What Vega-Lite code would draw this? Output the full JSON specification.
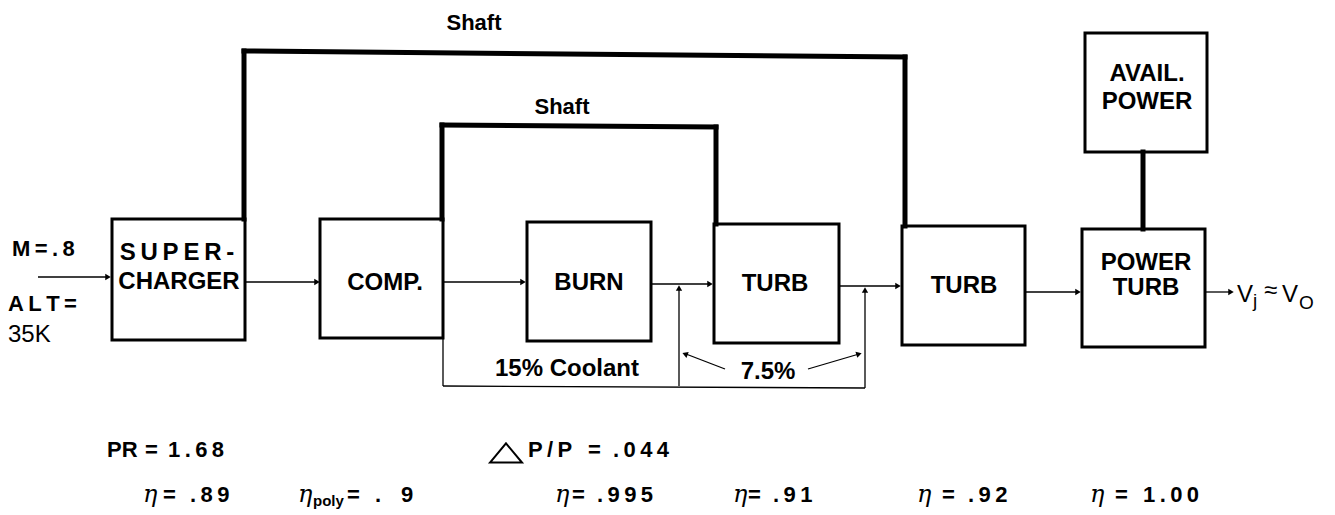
{
  "$schema": "https://vega.github.io/schema/vega-lite/v6.json",
  "width": 1335,
  "height": 515,
  "autosize": {"type": "fit", "contains": "padding"},
  "padding": 0,
  "background": "white",
  "config": {"view": {"stroke": null}},
  "datasets": {
    "boxes": [
      {"name": "SUPERCHARGER", "x": 112, "x2": 245, "y": 219, "y2": 340},
      {"name": "COMP", "x": 320, "x2": 443, "y": 219, "y2": 338},
      {"name": "BURN", "x": 527, "x2": 651, "y": 222, "y2": 341},
      {"name": "TURB1", "x": 714, "x2": 839, "y": 224, "y2": 343},
      {"name": "TURB2", "x": 902, "x2": 1025, "y": 226, "y2": 345},
      {"name": "POWER TURB", "x": 1082, "x2": 1205, "y": 229, "y2": 347},
      {"name": "AVAIL POWER", "x": 1085, "x2": 1207, "y": 33, "y2": 152}
    ],
    "thick": [
      {"x": 244, "y": 219, "x2": 244, "y2": 51},
      {"x": 244, "y": 51, "x2": 905, "y2": 57},
      {"x": 905, "y": 57, "x2": 905, "y2": 226},
      {"x": 442, "y": 219, "x2": 442, "y2": 125},
      {"x": 442, "y": 125, "x2": 716, "y2": 127},
      {"x": 716, "y": 127, "x2": 716, "y2": 224},
      {"x": 1143, "y": 152, "x2": 1143, "y2": 229}
    ],
    "thin": [
      {"x": 38, "y": 277, "x2": 108, "y2": 277},
      {"x": 246, "y": 282, "x2": 316, "y2": 282},
      {"x": 443, "y": 282, "x2": 522, "y2": 282},
      {"x": 651, "y": 284, "x2": 709, "y2": 284},
      {"x": 839, "y": 286, "x2": 897, "y2": 286},
      {"x": 1025, "y": 292, "x2": 1077, "y2": 292},
      {"x": 1205, "y": 292, "x2": 1230, "y2": 292},
      {"x": 443, "y": 338, "x2": 443, "y2": 386},
      {"x": 443, "y": 386, "x2": 865, "y2": 388},
      {"x": 679, "y": 386, "x2": 679, "y2": 289},
      {"x": 865, "y": 388, "x2": 865, "y2": 291},
      {"x": 686, "y": 354, "x2": 725, "y2": 369},
      {"x": 808, "y": 369, "x2": 859, "y2": 354}
    ],
    "arrows": [
      {"x": 108, "y": 277, "a": 0},
      {"x": 317, "y": 282, "a": 0},
      {"x": 523, "y": 282, "a": 0},
      {"x": 710, "y": 284, "a": 0},
      {"x": 898, "y": 286, "a": 0},
      {"x": 1078, "y": 292, "a": 0},
      {"x": 1231, "y": 292, "a": 0},
      {"x": 679, "y": 288, "a": 270},
      {"x": 865, "y": 290, "a": 270},
      {"x": 685, "y": 354, "a": 201},
      {"x": 859, "y": 354, "a": 343}
    ],
    "bigText": [
      {"t": "S\u2009U\u2009P\u2009E\u2009R\u2009-", "x": 177, "y": 260},
      {"t": "CHARGER", "x": 179, "y": 289},
      {"t": "COMP.", "x": 385, "y": 290},
      {"t": "BURN", "x": 589, "y": 290},
      {"t": "TURB", "x": 775, "y": 291},
      {"t": "TURB", "x": 964, "y": 293},
      {"t": "POWER", "x": 1146, "y": 270},
      {"t": "TURB", "x": 1146, "y": 295},
      {"t": "AVAIL.", "x": 1147, "y": 81},
      {"t": "POWER", "x": 1147, "y": 109},
      {"t": "15% Coolant", "x": 567, "y": 376},
      {"t": "7.5%", "x": 768, "y": 379}
    ],
    "shaftText": [
      {"t": "Shaft", "x": 474, "y": 30},
      {"t": "Shaft", "x": 562, "y": 114}
    ],
    "leftText": [
      {"t": "M\u2009=\u2009.\u20098", "x": 12, "y": 256},
      {"t": "A\u2009L\u2009T\u2009=", "x": 8, "y": 311}
    ],
    "params": [
      {"t": "PR", "x": 107, "y": 457},
      {"t": "=", "x": 145, "y": 457},
      {"t": "1\u2009.\u20096\u20098", "x": 168, "y": 457},
      {"t": "P\u2009/\u2009P", "x": 528, "y": 457},
      {"t": "=", "x": 588, "y": 457},
      {"t": ".\u20090\u20094\u20094", "x": 613, "y": 457},
      {"t": "=", "x": 163, "y": 502},
      {"t": ".\u20098\u20099", "x": 190, "y": 502},
      {"t": "=", "x": 347, "y": 502},
      {"t": ".", "x": 375, "y": 502},
      {"t": "9", "x": 401, "y": 502},
      {"t": "=", "x": 572, "y": 502},
      {"t": ".\u20099\u20099\u20095", "x": 597, "y": 502},
      {"t": "=", "x": 748, "y": 502},
      {"t": ".\u20099\u20091", "x": 773, "y": 502},
      {"t": "=", "x": 942, "y": 502},
      {"t": ".\u20099\u20092", "x": 968, "y": 502},
      {"t": "=", "x": 1115, "y": 502},
      {"t": "1\u2009.\u20090\u20090", "x": 1143, "y": 502}
    ],
    "etas": [
      {"t": "η", "x": 143, "y": 502},
      {"t": "η", "x": 298, "y": 502},
      {"t": "η", "x": 555, "y": 502},
      {"t": "η", "x": 733, "y": 502},
      {"t": "η", "x": 917, "y": 502},
      {"t": "η", "x": 1090, "y": 502}
    ],
    "subs": [
      {"t": "poly", "x": 313, "y": 506}
    ],
    "regText": [
      {"t": "35K", "x": 8, "y": 342},
      {"t": "V", "x": 1237, "y": 302},
      {"t": "≈", "x": 1264, "y": 298},
      {"t": "V", "x": 1282, "y": 302}
    ],
    "smallReg": [
      {"t": "j", "x": 1253, "y": 307},
      {"t": "O", "x": 1299, "y": 309}
    ],
    "delta": [
      {"t": "ΔP", "x": 506, "y": 453}
    ]
  },
  "encoding": {
    "x": {"field": "x", "type": "quantitative", "scale": {"domain": [0, 1335], "nice": false, "zero": false}, "axis": null},
    "y": {"field": "y", "type": "quantitative", "scale": {"domain": [0, 515], "reverse": true, "nice": false, "zero": false}, "axis": null}
  },
  "layer": [
    {
      "data": {"name": "boxes"},
      "mark": {"type": "rect", "fill": "white", "stroke": "black", "strokeWidth": 3},
      "encoding": {
        "x2": {"field": "x2"},
        "y2": {"field": "y2"}
      }
    },
    {
      "data": {"name": "thick"},
      "mark": {"type": "rule", "color": "black", "strokeWidth": 5, "strokeCap": "square"},
      "encoding": {
        "x2": {"field": "x2"},
        "y2": {"field": "y2"}
      }
    },
    {
      "data": {"name": "thin"},
      "mark": {"type": "rule", "color": "black", "strokeWidth": 1.3},
      "encoding": {
        "x2": {"field": "x2"},
        "y2": {"field": "y2"}
      }
    },
    {
      "data": {"name": "arrows"},
      "mark": {"type": "point", "shape": "triangle-right", "filled": true, "color": "black", "opacity": 1, "size": 40},
      "encoding": {
        "angle": {"field": "a", "type": "quantitative", "scale": null}
      }
    },
    {
      "data": {"name": "delta"},
      "mark": {"type": "point", "shape": "M-1,0.6L0,-0.6L1,0.6Z", "filled": false, "color": "black", "opacity": 1, "strokeWidth": 2, "size": 1024}
    },
    {
      "data": {"name": "bigText"},
      "mark": {"type": "text", "font": "Liberation Sans", "fontWeight": "bold", "fontSize": 24, "align": "center", "baseline": "alphabetic", "color": "black"},
      "encoding": {"text": {"field": "t"}}
    },
    {
      "data": {"name": "shaftText"},
      "mark": {"type": "text", "font": "Liberation Sans", "fontWeight": "bold", "fontSize": 22, "align": "center", "baseline": "alphabetic", "color": "black"},
      "encoding": {"text": {"field": "t"}}
    },
    {
      "data": {"name": "leftText"},
      "mark": {"type": "text", "font": "Liberation Sans", "fontWeight": "bold", "fontSize": 22, "align": "left", "baseline": "alphabetic", "color": "black"},
      "encoding": {"text": {"field": "t"}}
    },
    {
      "data": {"name": "params"},
      "mark": {"type": "text", "font": "Liberation Sans", "fontWeight": "bold", "fontSize": 22, "align": "left", "baseline": "alphabetic", "color": "black"},
      "encoding": {"text": {"field": "t"}}
    },
    {
      "data": {"name": "etas"},
      "mark": {"type": "text", "font": "DejaVu Serif", "fontStyle": "italic", "fontSize": 24, "align": "left", "baseline": "alphabetic", "color": "black"},
      "encoding": {"text": {"field": "t"}}
    },
    {
      "data": {"name": "subs"},
      "mark": {"type": "text", "font": "Liberation Sans", "fontWeight": "bold", "fontSize": 15, "align": "left", "baseline": "alphabetic", "color": "black"},
      "encoding": {"text": {"field": "t"}}
    },
    {
      "data": {"name": "regText"},
      "mark": {"type": "text", "font": "Liberation Sans", "fontSize": 24, "align": "left", "baseline": "alphabetic", "color": "black"},
      "encoding": {"text": {"field": "t"}}
    },
    {
      "data": {"name": "smallReg"},
      "mark": {"type": "text", "font": "Liberation Sans", "fontSize": 19, "align": "left", "baseline": "alphabetic", "color": "black"},
      "encoding": {"text": {"field": "t"}}
    }
  ]
}
